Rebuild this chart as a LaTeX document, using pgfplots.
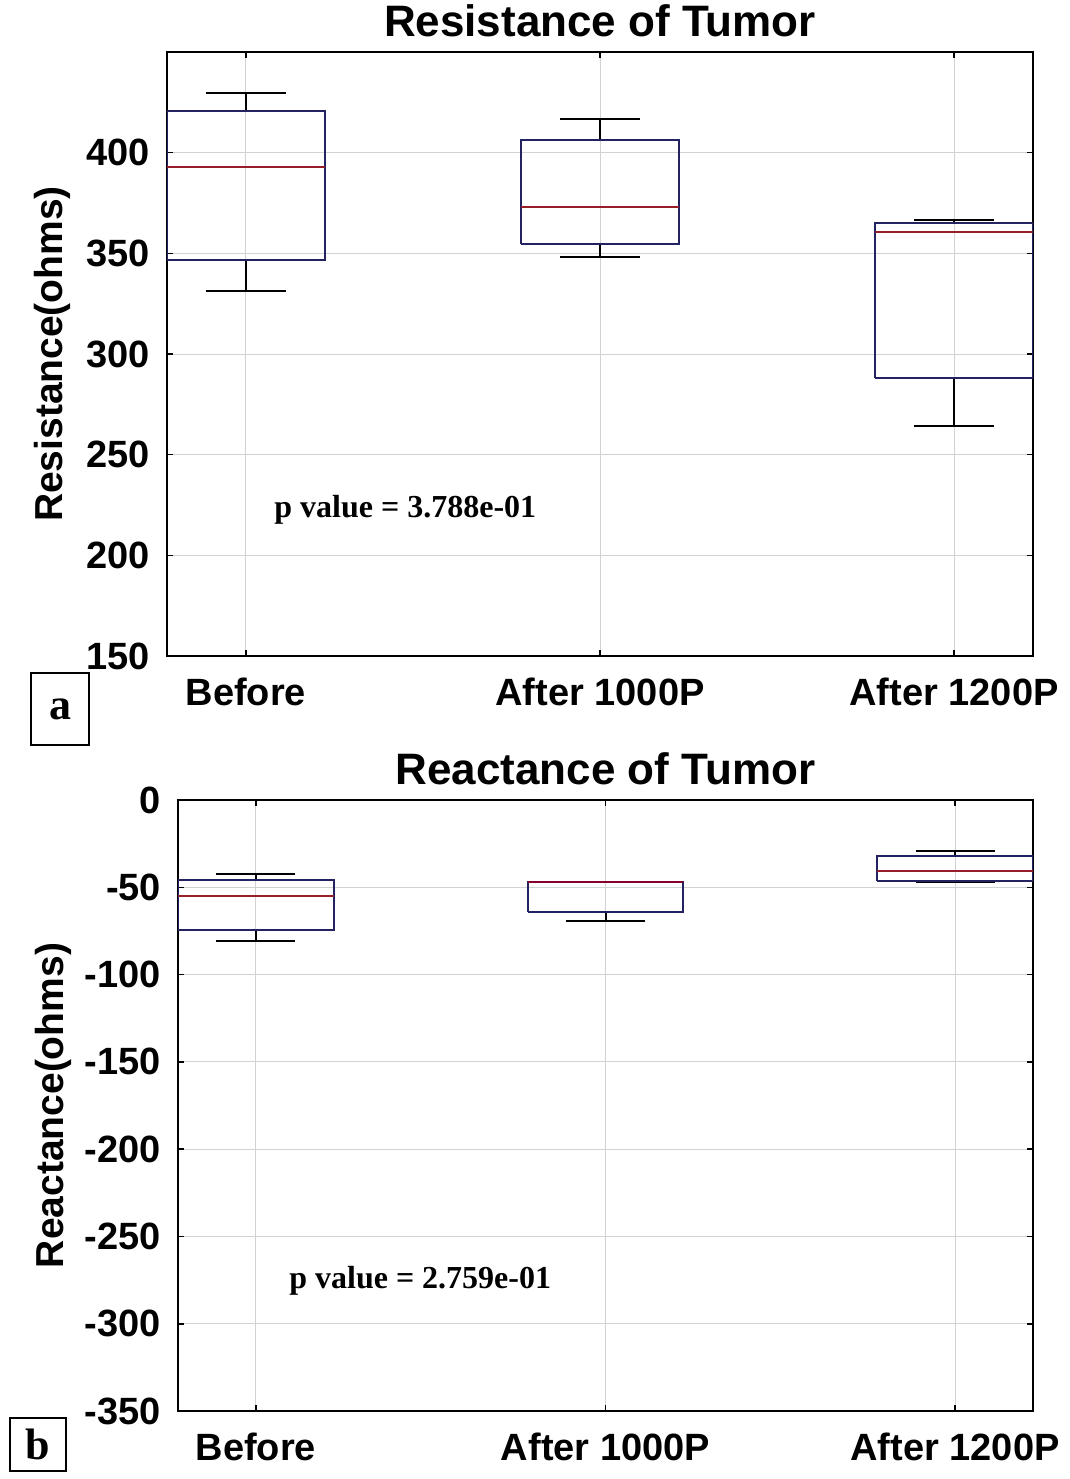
\documentclass[border=0pt]{standalone}
\usepackage{pgfplots}
\pgfplotsset{compat=1.18}
\usepackage{fontspec}
\setmainfont{Liberation Serif}
\setsansfont{Liberation Sans}
\definecolor{boxblue}{RGB}{35,35,100}
\definecolor{medred}{RGB}{150,30,40}
\pgfplotsset{
  myaxis/.style={
    scale only axis,
    axis line style={black, line width=1.2pt},
    xmin=0.777, xmax=3.223,
    xtick={1,2,3},
    xticklabels={Before, After 1000P, After 1200P},
    grid=major,
    grid style={gray!35, line width=0.5pt},
    tick align=inside,
    major tick length=3pt,
    tick style={black, line width=0.8pt},
    unbounded coords=jump,
    /pgf/number format/assume math mode=true,
    ticklabel style={font=\fontsize{19}{21}\selectfont\sffamily\bfseries},
    xticklabel style={yshift=-7.5pt},
    yticklabel style={xshift=-5pt},
    title style={font=\fontsize{22}{24}\selectfont\sffamily\bfseries, at={(0.5,1)}, anchor=base, yshift=2pt},
    label style={font=\fontsize{19.5}{21}\selectfont\sffamily\bfseries},
  },
  bx/.style={draw=boxblue, line width=1pt, mark=none},
  md/.style={draw=medred, line width=1pt, mark=none},
  wk/.style={draw=black, line width=1pt, mark=none},
}
\begin{document}
\begin{tikzpicture}
\path[use as bounding box] (0,0) rectangle (535pt,-739.5pt);
% Panel a
\begin{axis}[myaxis,
  at={(83.5pt,-26pt)}, anchor=north west,
  width=433pt, height=302pt,
  ymin=150, ymax=450,
  ytick={150,200,250,300,350,400},
  title={Resistance of Tumor},
  ylabel={Resistance(ohms)},
  ylabel style={at={(axis description cs:-0.1328,0.5)}, anchor=center},
]
% Before
\addplot[wk] coordinates {(1,420.5) (1,429.5) (nan,nan) (0.887,429.5) (1.113,429.5) (nan,nan) (1,346.5) (1,331.5) (nan,nan) (0.887,331.5) (1.113,331.5)};
\addplot[bx] coordinates {(0.777,346.5) (1.223,346.5) (1.223,420.5) (0.777,420.5) (0.777,346.5)};
\addplot[md] coordinates {(0.777,393) (1.223,393)};
% After 1000P
\addplot[wk] coordinates {(2,406.3) (2,416.7) (nan,nan) (1.887,416.7) (2.113,416.7) (nan,nan) (2,354.4) (2,348.1) (nan,nan) (1.887,348.1) (2.113,348.1)};
\addplot[bx] coordinates {(1.777,354.4) (2.223,354.4) (2.223,406.3) (1.777,406.3) (1.777,354.4)};
\addplot[md] coordinates {(1.777,373) (2.223,373)};
% After 1200P
\addplot[wk] coordinates {(3,365) (3,366.6) (nan,nan) (2.887,366.6) (3.113,366.6) (nan,nan) (3,288.2) (3,264.2) (nan,nan) (2.887,264.2) (3.113,264.2)};
\addplot[bx] coordinates {(2.777,288.2) (3.223,288.2) (3.223,365) (2.777,365) (2.777,288.2)};
\addplot[md] coordinates {(2.777,360.5) (3.223,360.5)};
\node[font=\fontsize{16}{18}\selectfont\bfseries] at (axis cs:1.45,222.5) {p value = 3.788e-01};
\end{axis}
\draw[line width=1pt] (15.5pt,-336.5pt) rectangle (44.5pt,-372.5pt);
\node[font=\fontsize{22}{24}\selectfont\bfseries] at (30pt,-354.5pt) {a};
% Panel b
\begin{axis}[myaxis,
  at={(89pt,-400pt)}, anchor=north west,
  width=427.5pt, height=305.5pt,
  ymin=-350, ymax=0,
  ytick={-350,-300,-250,-200,-150,-100,-50,0},
  title={Reactance of Tumor},
  ylabel={Reactance(ohms)},
  ylabel style={at={(axis description cs:-0.1462,0.5)}, anchor=center},
]
% Before
\addplot[wk] coordinates {(1,-45.8) (1,-42.6) (nan,nan) (0.887,-42.6) (1.113,-42.6) (nan,nan) (1,-74.5) (1,-80.8) (nan,nan) (0.887,-80.8) (1.113,-80.8)};
\addplot[bx] coordinates {(0.777,-74.5) (1.223,-74.5) (1.223,-45.8) (0.777,-45.8) (0.777,-74.5)};
\addplot[md] coordinates {(0.777,-55) (1.223,-55)};
% After 1000P
\addplot[wk] coordinates {(1.887,-47) (2.113,-47) (nan,nan) (2,-64.1) (2,-69.3) (nan,nan) (1.887,-69.3) (2.113,-69.3)};
\addplot[bx] coordinates {(1.777,-64.1) (2.223,-64.1) (2.223,-47) (1.777,-47) (1.777,-64.1)};
\addplot[draw=purple!70!black, line width=1pt, mark=none] coordinates {(1.777,-47) (2.223,-47)};
% After 1200P
\addplot[wk] coordinates {(3,-32) (3,-29.2) (nan,nan) (2.887,-29.2) (3.113,-29.2) (nan,nan) (3,-46.6) (3,-47.1) (nan,nan) (2.887,-47.1) (3.113,-47.1)};
\addplot[bx] coordinates {(2.777,-46.6) (3.223,-46.6) (3.223,-32) (2.777,-32) (2.777,-46.6)};
\addplot[md] coordinates {(2.777,-40.5) (3.223,-40.5)};
\node[font=\fontsize{16}{18}\selectfont\bfseries] at (axis cs:1.47,-275.5) {p value = 2.759e-01};
\end{axis}
\draw[line width=1pt] (5pt,-709pt) rectangle (33pt,-735.5pt);
\node[font=\fontsize{22}{24}\selectfont\bfseries] at (19pt,-722pt) {b};
\end{tikzpicture}
\end{document}
